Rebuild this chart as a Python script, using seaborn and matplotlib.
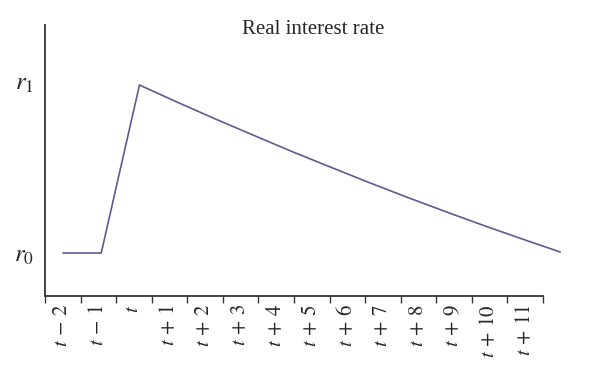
import numpy as np
import pandas as pd
import seaborn as sns
import matplotlib.pyplot as plt

# periods and the real interest rate path (r0 = 0, r1 = 1)
periods = ['t-2', 't-1', 't', 't+1', 't+2', 't+3', 't+4', 't+5',
           't+6', 't+7', 't+8', 't+9', 't+10', 't+11']
rate = [0.0, 0.0, 0.977, 0.876, 0.778, 0.683, 0.589, 0.499,
        0.410, 0.324, 0.241, 0.160, 0.082, 0.006]
tick_labels = [r'$t\,-\,2$', r'$t\,-\,1$', r'$t$', r'$t\,+\,1$', r'$t\,+\,2$',
               r'$t\,+\,3$', r'$t\,+\,4$', r'$t\,+\,5$', r'$t\,+\,6$',
               r'$t\,+\,7$', r'$t\,+\,8$', r'$t\,+\,9$', r'$t\,+\,10$',
               r'$t\,+\,11$']
ytick_vals = [0.0, 1.0]
ytick_labels = [r'$r_0$', r'$r_1$']

sns.set_style('white')
plt.rcParams['font.family'] = ['Liberation Serif', 'DejaVu Serif']
plt.rcParams['mathtext.fontset'] = 'stix'

df = pd.DataFrame({'step': np.arange(len(periods)), 'rate': rate})

fig = plt.figure(figsize=(6, 3.79), dpi=100)
ax = fig.add_axes([45 / 600, 83 / 379, 498 / 600, 271 / 379])

# category axis: labels at cell centres, tick marks between cells
ax.set_xlim(-0.5, len(periods) - 0.5)
ax.set_xticks(np.arange(len(periods)))
ax.set_xticklabels(tick_labels, rotation=90, fontsize=15)
ax.set_xticks(np.arange(len(periods) + 1) - 0.5, minor=True)
ax.tick_params(axis='x', which='major', length=0, pad=6)
ax.tick_params(axis='x', which='minor', length=5, width=1, color='#333333',
               direction='out')
ax.set_ylim(-0.25, 1.326)
ax.set_yticks(ytick_vals)
ax.set_yticklabels(ytick_labels, fontsize=18)
ax.tick_params(axis='y', length=0, pad=8)
for side in ['top', 'right']:
    ax.spines[side].set_visible(False)
for side in ['left', 'bottom']:
    ax.spines[side].set_color('#333333')
    ax.spines[side].set_linewidth(1.3)

# the line itself sits on its own x scale (slightly wider than the categories)
ax2 = ax.twiny()
sns.lineplot(data=df, x='step', y='rate', ax=ax2, color='#66578f',
             linewidth=1.2)
ax2.set_xlim(-0.47, 12.55)
ax2.set_ylim(ax.get_ylim())
for ln in ax2.lines:
    ln.set_clip_on(False)
ax2.set_xticks([])
ax2.set_xlabel('')
ax2.set_ylabel('')
for s in ax2.spines.values():
    s.set_visible(False)

ax.set_xlabel('')
ax.set_ylabel('')
fig.text(313 / 600, 1 - 30 / 379, 'Real interest rate', ha='center',
         va='center', fontsize=15)

fig.savefig('out.png', dpi=100)
